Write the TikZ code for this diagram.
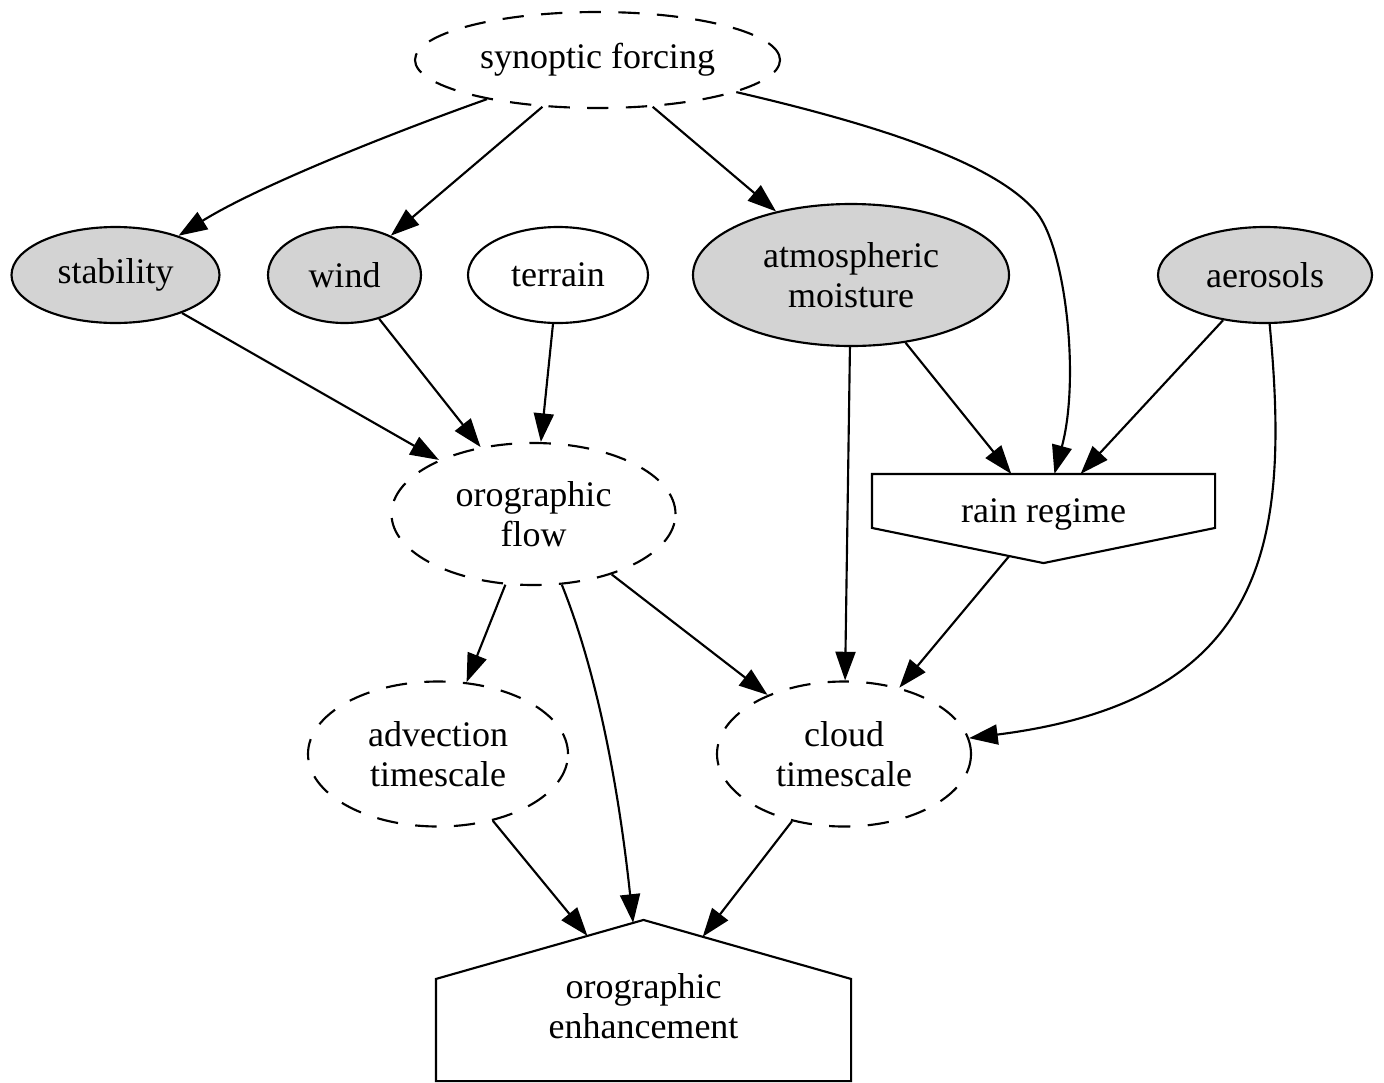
\documentclass[tikz,border=0pt]{standalone}
\usepackage{fontspec}
\setmainfont{Liberation Serif}
\usetikzlibrary{shapes.geometric,arrows.meta,calc}
\tikzset{every picture/.style={line width=1.6pt}}

\begin{document}
\begin{tikzpicture}[x=0.75pt,y=0.75pt,yscale=-1,xscale=1,
  font=\fontsize{27}{30}\selectfont,
  oval/.style={ellipse,draw,inner sep=0pt,align=center},
  filled/.style={oval,fill={rgb,255:red,211;green,211;blue,211}},
  dashoval/.style={oval,dash pattern=on 16pt off 13pt},
  box/.style={rectangle,inner sep=0pt,align=center},
  edge/.style={-{Triangle[length=21.5pt,width=15pt]}}]
\useasboundingbox (0,0) rectangle (1384,1082);

%Shape: Ellipse [top]
\node[dashoval,minimum width=273.75pt,minimum height=72pt] (syn) at (597.5,60) {synoptic forcing};
%Shape: Ellipse [second row]
\node[filled,minimum width=156pt,minimum height=72pt] (stab) at (115.5,275) {stability};
\node[filled,minimum width=114.75pt,minimum height=72pt] (wind) at (344.5,275) {wind};
\node[oval,minimum width=135pt,minimum height=72pt] (terr) at (558,275) {terrain};
\node[filled,minimum width=237pt,minimum height=106.5pt] (moist) at (851,275) {atmospheric\\moisture};
\node[filled,minimum width=160.5pt,minimum height=72pt] (aero) at (1265,275) {aerosols};
%Shape: Ellipse [third row]
\node[dashoval,minimum width=213pt,minimum height=106.5pt] (flow) at (533.5,514) {orographic\\flow};
\node[box,minimum width=255.75pt,minimum height=58.5pt] (rain) at (1043.5,514) {rain regime};
%Shape: Ellipse [fourth row]
\node[dashoval,minimum width=195pt,minimum height=108.75pt] (adv) at (438,754) {advection\\timescale};
\node[dashoval,minimum width=190.5pt,minimum height=108.75pt] (cloud) at (844,754) {cloud\\timescale};
%Shape: House [bottom]
\node[box,minimum width=309.75pt,minimum height=111pt] (enh) at (643.5,1006) {orographic\\enhancement};

%Shape: Polygon [rain regime]
\coordinate (rainW) at ($(rain.north west)+(0,54)$);
\coordinate (rainE) at ($(rain.north east)+(0,54)$);
\coordinate (rainS) at ($(rain.south)+(0,9)$);
\draw (rain.north west) -- (rain.north east) -- (rainE) -- (rainS) -- (rainW) -- cycle;
%Shape: Polygon [orographic enhancement]
\coordinate (enhTop) at ($(enh.north)+(0,-11)$);
\coordinate (enhL) at ($(enh.north west)+(0,48)$);
\coordinate (enhR) at ($(enh.north east)+(0,48)$);
\draw (enhTop) -- (enhR) -- (enh.south east) -- (enh.south west) -- (enhL) -- cycle;

%Curve Lines
\draw[edge] (syn) .. controls (400,130) and (260,185) .. (stab);
%Straight Lines
\draw[edge] (syn) -- (wind);
\draw[edge] (syn) -- (moist);
%Curve Lines
\draw[edge] (syn) .. controls (900,130) and (1000,168) .. (1037,213) .. controls (1066,250) and (1080,380) .. (rain);
%Straight Lines
\draw[edge] (stab) -- (flow);
\draw[edge] (wind) -- (flow);
\draw[edge] (terr) -- (flow);
\draw[edge] (moist) -- (rain);
\draw[edge] (moist) -- (cloud);
\draw[edge] (aero) -- (rain);
%Curve Lines
\draw[edge] (aero) .. controls (1290,540) and (1270,700) .. (cloud);
%Straight Lines
\draw[edge] ($(rainS)!0.2!(rainW)$) -- (cloud);
\draw[edge] (flow) -- (adv);
\draw[edge] (flow) -- (cloud);
%Curve Lines
\draw[edge] (flow) .. controls (600,680) and (620,800) .. ($(enhTop)!0.05!(enhL)$);
%Straight Lines
\draw[edge] (adv) -- ($(enhL)!0.73!(enhTop)$);
\draw[edge] (cloud) -- ($(enhTop)!0.285!(enhR)$);

\end{tikzpicture}
\end{document}
